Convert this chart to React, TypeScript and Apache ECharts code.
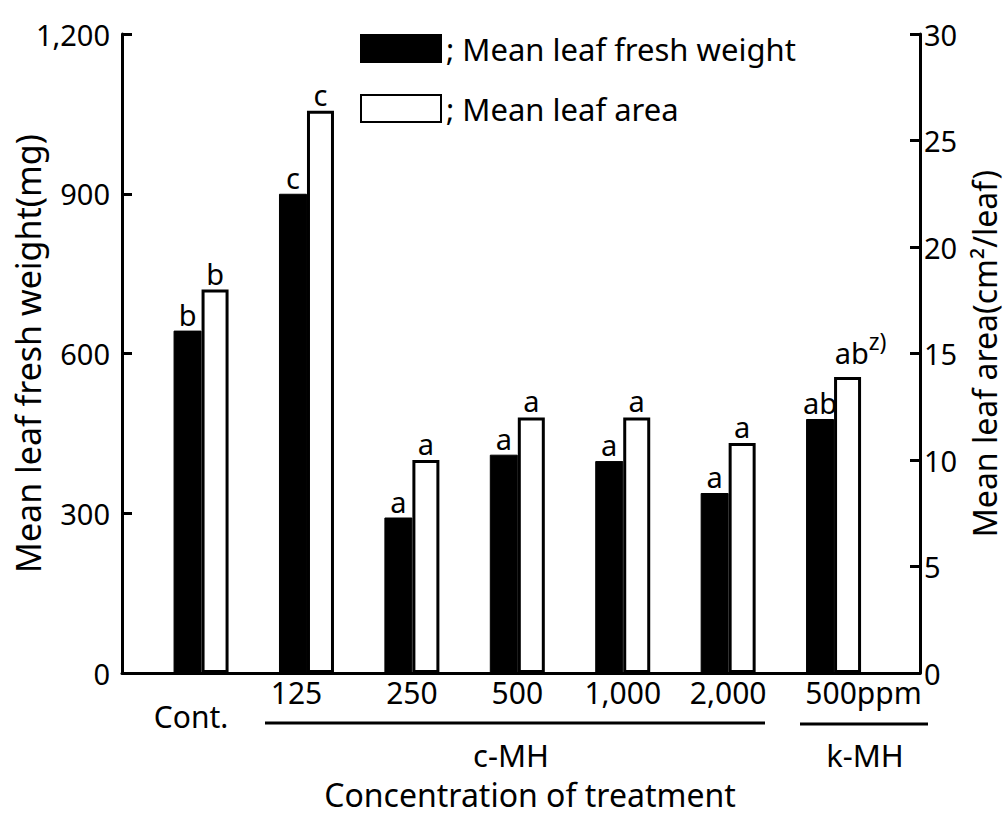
import React, { useEffect, useRef } from "react";
import * as echarts from "echarts";

const categories = ["Cont.", "125", "250", "500", "1,000", "2,000", "500ppm"];
const weightValues = [643, 900, 292, 410, 398, 338, 477];
const areaValues = [18.0, 26.4, 10.0, 12.0, 12.0, 10.8, 13.9];
const weightLetters = ["b", "c", "a", "a", "a", "a", "ab"];
const areaLetters = ["b", "c", "a", "a", "a", "a", "ab"];
const leftTicks = [0, 300, 600, 900, 1200];
const rightTicks = [0, 5, 10, 15, 20, 25, 30];
const seriesNames = ["Mean leaf fresh weight", "Mean leaf area"];

const FONT = "Noto Sans";

function fmtThousands(v: number): string {
  return String(v).replace(/\B(?=(\d{3})+(?!\d))/g, ",");
}

export default function App() {
  const ref = useRef<HTMLDivElement>(null);
  useEffect(() => {
    if (!ref.current) return;
    const chart = echarts.init(ref.current, null, { renderer: "svg" });
    const idx = categories.map((_, i) => i);
    chart.setOption({
      animation: false,
      backgroundColor: "#fff",
      textStyle: { fontFamily: FONT, color: "#000" },
      grid: {
        left: 122,
        right: 85,
        top: 34,
        bottom: 144,
        containLabel: false,
        outerBoundsMode: "none",
      },
      legend: {
        orient: "vertical",
        left: 360,
        top: 33,
        padding: 0,
        itemWidth: 80,
        itemHeight: 27,
        itemGap: 29,
        icon: "rect",
        formatter: (name: string) => "; " + name,
        textStyle: { fontFamily: FONT, fontSize: 31, color: "#000" },
        data: seriesNames,
      },
      xAxis: {
        type: "value",
        min: -0.75,
        max: 6.82,
        splitLine: { show: false },
        axisTick: { show: false },
        axisLine: { show: true, lineStyle: { color: "#000", width: 3 } },
        axisLabel: {
          customValues: idx,
          margin: 4,
          fontFamily: FONT,
          fontSize: 30,
          color: "#000",
          formatter: (v: number) => {
            const i = Math.round(v);
            if (i === 0) return "{c|" + categories[i] + "}";
            if (i === 1) return "{o|" + categories[i] + "}";
            if (i === categories.length - 1) return "{k|" + categories[i] + "}";
            return categories[i];
          },
          rich: {
            c: { fontFamily: FONT, fontSize: 30, color: "#000", padding: [24, 20, 0, 0] },
            o: { fontFamily: FONT, fontSize: 30, color: "#000", padding: [0, 20, 0, 0] },
            k: { fontFamily: FONT, fontSize: 30, color: "#000", padding: [0, 0, 0, 60] },
          },
        },
        name: "Concentration of treatment",
        nameLocation: "middle",
        nameGap: 105,
        nameMoveOverlap: false,
        nameTextStyle: { fontFamily: FONT, fontSize: 32, color: "#000", padding: [0, 0, 0, 18] },
      },
      yAxis: [
        {
          type: "value",
          min: leftTicks[0],
          max: leftTicks[leftTicks.length - 1],
          interval: leftTicks[1] - leftTicks[0],
          position: "left",
          splitLine: { show: false },
          axisLine: { show: true, onZero: false, lineStyle: { color: "#000", width: 3 } },
          axisTick: { show: true, inside: true, length: 10, lineStyle: { color: "#000", width: 3 } },
          axisLabel: {
            margin: 12,
            fontFamily: FONT,
            fontSize: 29,
            color: "#000",
            formatter: (v: number) => fmtThousands(v),
          },
          name: "Mean leaf fresh weight(mg)",
          nameLocation: "middle",
          nameGap: 77,
          nameMoveOverlap: false,
          nameTextStyle: { fontFamily: FONT, fontSize: 34, color: "#000" },
        },
        {
          type: "value",
          min: rightTicks[0],
          max: rightTicks[rightTicks.length - 1],
          interval: rightTicks[1] - rightTicks[0],
          position: "right",
          splitLine: { show: false },
          axisLine: { show: true, onZero: false, lineStyle: { color: "#000", width: 3 } },
          axisTick: { show: true, inside: true, length: 10, lineStyle: { color: "#000", width: 3 } },
          axisLabel: { margin: 4, fontFamily: FONT, fontSize: 29, color: "#000" },
          name: "Mean leaf area(cm²/leaf)",
          nameLocation: "middle",
          nameGap: 48,
          nameRotate: 90,
          nameMoveOverlap: false,
          nameTextStyle: { fontFamily: FONT, fontSize: 32, color: "#000" },
        },
      ],
      series: [
        {
          name: seriesNames[0],
          type: "bar",
          yAxisIndex: 0,
          barWidth: 28,
          barGap: "0%",
          itemStyle: { color: "#000", borderColor: "#000", borderWidth: 1 },
          label: {
            show: true,
            position: "top",
            distance: 2,
            fontFamily: FONT,
            fontSize: 29,
            color: "#000",
            formatter: (p: any) => weightLetters[p.dataIndex],
          },
          data: idx.map((i) => [i, weightValues[i]]),
        },
        {
          name: seriesNames[1],
          type: "bar",
          yAxisIndex: 1,
          barWidth: 27,
          barGap: "0%",
          itemStyle: { color: "#fff", borderColor: "#000", borderWidth: 3 },
          label: {
            show: true,
            position: "top",
            distance: 2,
            fontFamily: FONT,
            fontSize: 29,
            color: "#000",
            formatter: (p: any) =>
              p.dataIndex === categories.length - 1
                ? "{n|" + areaLetters[p.dataIndex] + "}{s|z)}"
                : areaLetters[p.dataIndex],
            rich: {
              n: { fontFamily: FONT, fontSize: 29, color: "#000", padding: [0, 0, 0, 26] },
              s: { fontFamily: FONT, fontSize: 23, color: "#000", padding: [0, 0, 22, 0] },
            },
          },
          data: idx.map((i) => [i, areaValues[i]]),
        },
      ],
      graphic: [
        { type: "line", shape: { x1: 265, y1: 723, x2: 765, y2: 723 }, style: { stroke: "#000", lineWidth: 3 } },
        { type: "line", shape: { x1: 800, y1: 724, x2: 928, y2: 724 }, style: { stroke: "#000", lineWidth: 3 } },
        {
          type: "text",
          x: 511,
          y: 755,
          style: { text: "c-MH", fontFamily: FONT, fontSize: 31, fill: "#000", align: "center", verticalAlign: "middle" },
        },
        {
          type: "text",
          x: 865,
          y: 755,
          style: { text: "k-MH", fontFamily: FONT, fontSize: 31, fill: "#000", align: "center", verticalAlign: "middle" },
        },
      ],
    });
    return () => chart.dispose();
  }, []);
  return (
    <div
      ref={ref}
      style={{ position: "absolute", left: 0, top: 0, width: 1005, height: 817 }}
    />
  );
}
